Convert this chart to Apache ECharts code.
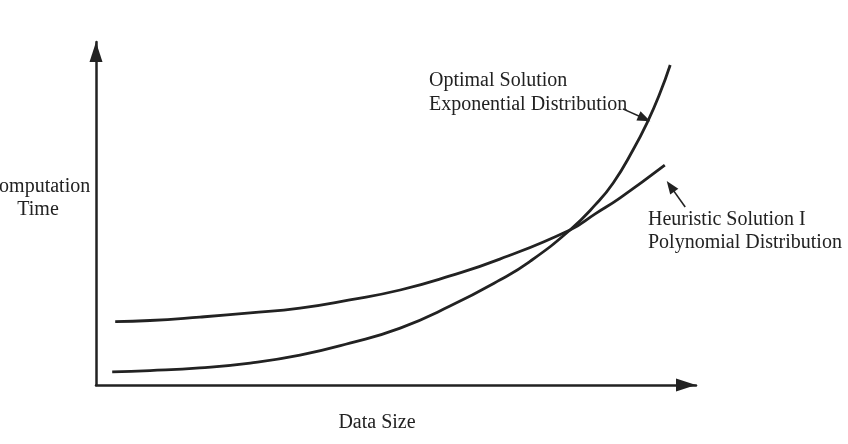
<!DOCTYPE html>
<html>
<head>
<meta charset="utf-8">
<script src="https://cdn.jsdelivr.net/npm/echarts@6/dist/echarts.min.js"></script>
<style>
  html, body { margin: 0; padding: 0; background: #fff; }
  #chart { width: 848px; height: 444px; }
</style>
</head>
<body>
<div id="chart"></div>
<script>
// curve samples (x: data size 0-100, y: time 0-100)
var optimalX = [2.7, 9.0, 17.3, 25.7, 34.0, 42.3, 50.7, 59.0, 67.3, 72.3, 79.0, 83.2, 86.2, 89.5, 92.0, 94.0, 95.7];
var optimalY = [3.8, 4.2, 5.0, 6.4, 8.7, 12.2, 16.6, 23.0, 30.6, 36.0, 45.2, 52.5, 58.9, 68.5, 77.0, 85.1, 93.3];
var heuristicX = [3.2, 9.0, 17.3, 25.7, 34.0, 42.3, 50.7, 59.0, 67.3, 79.0, 83.2, 87.3, 94.8];
var heuristicY = [18.5, 18.8, 19.8, 21.0, 22.4, 24.8, 27.7, 31.8, 36.7, 45.2, 49.9, 54.5, 64.1];

// annotation arrows: [tailX, tailY, headX, headY] (head = centre of the triangle)
var optimalArrow = [87.8, 80.5, 91.4, 77.7];
var heuristicArrow = [98.2, 51.9, 95.75, 57.9];

var optimalLabel = ['Optimal Solution', 'Exponential Distribution'];
var heuristicLabel = ['Heuristic Solution I', 'Polynomial Distribution'];
var xName = 'Data Size';
var yName = ['Computation', 'Time'];

function pairs(xs, ys) {
    var out = [];
    for (var i = 0; i < xs.length; i++) out.push([xs[i], ys[i]]);
    return out;
}

function arrow(a) {
    return [[
        {coord: [a[0], a[1]], symbol: 'none'},
        {coord: [a[2], a[3]], symbol: 'triangle', symbolSize: [10, 13]}
    ]];
}

var ink = '#222';
var serif = '"Liberation Serif", "Times New Roman", serif';

var axisCommon = {
    type: 'value',
    min: 0,
    max: 100,
    axisLine: {
        show: true,
        symbol: ['none', 'triangle'],
        symbolSize: [13, 20],
        symbolOffset: [0, -10],
        lineStyle: {color: ink, width: 2.5}
    },
    axisTick: {show: false},
    axisLabel: {show: false},
    splitLine: {show: false}
};

var myChart = echarts.init(document.getElementById('chart'));
var option = {
    animation: false,
    backgroundColor: '#fff',
    grid: {left: 96, right: 152, top: 42, bottom: 59},
    xAxis: axisCommon,
    yAxis: axisCommon,
    series: [
        {
            type: 'line',
            name: 'Optimal',
            data: pairs(optimalX, optimalY),
            smooth: 0.5,
            showSymbol: false,
            lineStyle: {color: ink, width: 2.8},
            markLine: {
                silent: true,
                label: {show: false},
                lineStyle: {color: ink, width: 1.6, type: 'solid'},
                data: arrow(optimalArrow)
            }
        },
        {
            type: 'line',
            name: 'Heuristic',
            data: pairs(heuristicX, heuristicY),
            smooth: 0.5,
            showSymbol: false,
            lineStyle: {color: ink, width: 2.8},
            markLine: {
                silent: true,
                label: {show: false},
                lineStyle: {color: ink, width: 1.6, type: 'solid'},
                data: arrow(heuristicArrow)
            }
        }
    ],
    graphic: [
        {
            type: 'text', left: 429, top: 69,
            style: {text: optimalLabel.join('\n'), font: '20px ' + serif, lineHeight: 24, fill: ink}
        },
        {
            type: 'text', left: 648, top: 208,
            style: {text: heuristicLabel.join('\n'), font: '20px ' + serif, lineHeight: 23, fill: ink}
        },
        {
            type: 'text', x: 38, y: 175,
            style: {text: yName.join('\n'), font: '20px ' + serif, lineHeight: 23, fill: ink, align: 'center'}
        },
        {
            type: 'text', x: 377, y: 411,
            style: {text: xName, font: '20px ' + serif, lineHeight: 24, fill: ink, align: 'center'}
        }
    ]
};
myChart.setOption(option);
</script>
</body>
</html>
